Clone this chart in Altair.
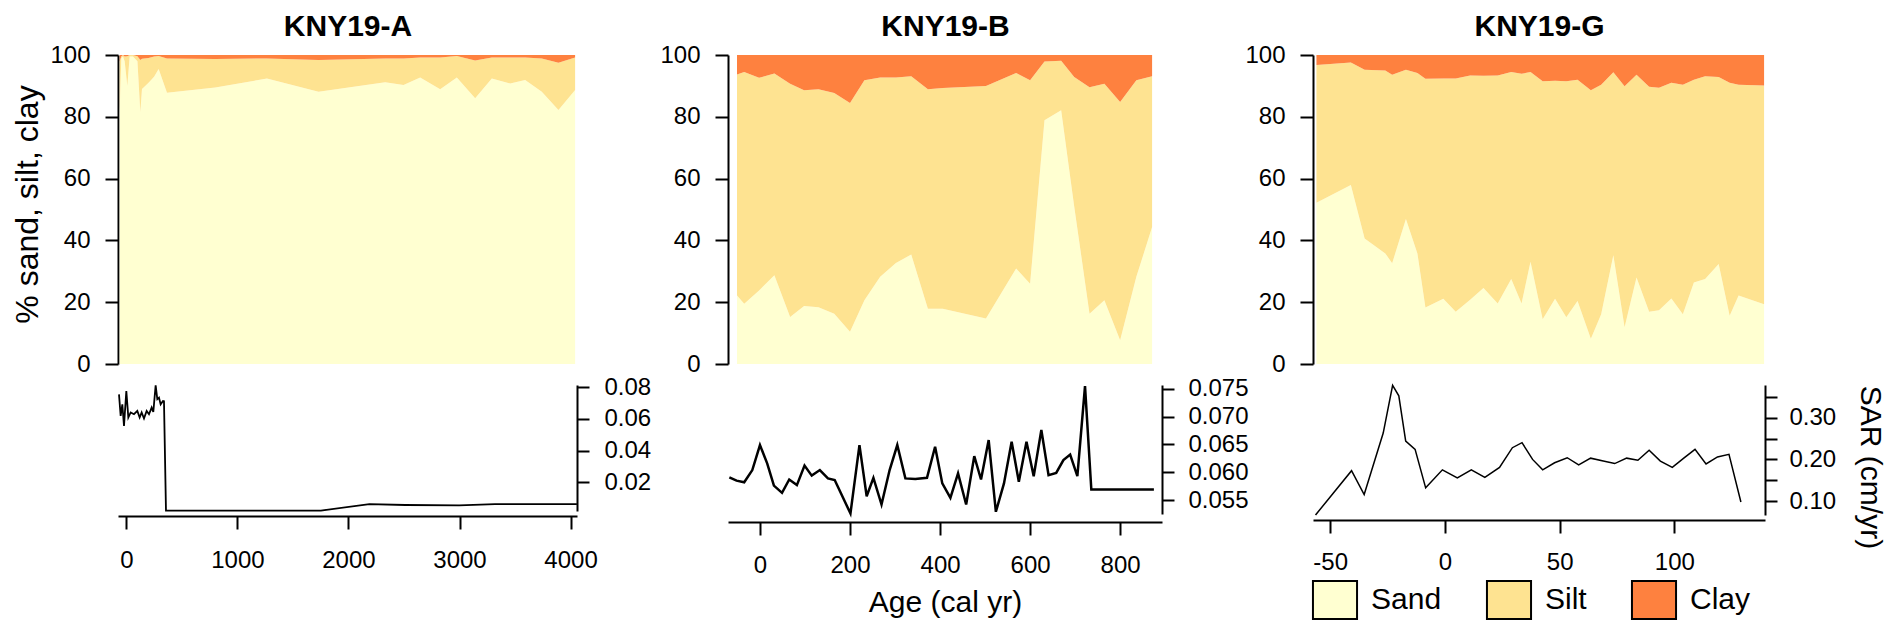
import altair as alt
import pandas as pd

FONT = "Liberation Sans"
COLORS = ["#FFFFD1", "#FEE391", "#FE813F"]
FRACTIONS = ["Sand", "Silt", "Clay"]

# ---------------- KNY19-A : grain size (%) ----------------
A_age = [-60, -45, -30, -15, 9, 30, 60, 100, 126, 141, 200, 250, 291, 366, 801, 1266, 1731,
         2331, 2496, 2646, 2826, 2976, 3141, 3291, 3456, 3591, 3741, 3891, 4041]
A_sand = [82, 99, 99.5, 98, 90, 99.5, 99.5, 98, 81.5, 89, 91, 93, 95.5, 87.8, 89.5, 92.4, 88.1,
          91.2, 90.3, 92.7, 88.9, 92.7, 86.0, 92.4, 90.8, 91.9, 88.1, 82.2, 88.7]
A_silt = [16, 0.6, 0.5, 1.5, 9.6, 0.5, 0.5, 1.6, 16.9, 9.8, 8, 6.5, 4.2, 11.1, 9.2, 6.5, 10.3,
          7.7, 8.6, 6.5, 10.3, 7.0, 12.2, 6.8, 8.4, 7.3, 10.8, 15.3, 10.5]
A_clay = [2, 0.4, 0, 0.5, 0.4, 0, 0, 0.4, 1.6, 1.2, 1, 0.5, 0.3, 1.1, 1.3, 1.1, 1.6,
          1.1, 1.1, 0.8, 0.8, 0.3, 1.8, 0.8, 0.8, 0.8, 1.1, 2.5, 0.8]

# ---------------- KNY19-B : grain size (%) ----------------
B_age = [-51, -35, -2, 32, 67, 98, 130, 165, 200, 232, 267, 302, 336, 373, 406, 502, 569,
         600, 632, 669, 698, 732, 765, 800, 836, 871]
B_sand = [22.2, 19.5, 23.8, 28.7, 15.2, 18.8, 18.4, 16.3, 10.4, 20.6, 28.2, 32.7, 35.4, 17.9,
          17.9, 14.7, 30.9, 26.0, 78.9, 82.1, 51.0, 16.3, 20.6, 7.7, 28.2, 44.3]
B_silt = [71.5, 75.0, 68.8, 65.3, 75.5, 69.8, 70.5, 71.4, 74.1, 71.2, 64.5, 60.0, 57.7, 71.0,
          71.4, 75.3, 63.3, 65.8, 19.0, 16.0, 41.9, 73.3, 70.1, 77.1, 63.6, 48.8]
B_clay = [6.3, 5.5, 7.4, 6.0, 9.3, 11.4, 11.1, 12.3, 15.5, 8.2, 7.3, 7.3, 6.9, 11.1, 10.7,
          10.0, 5.8, 8.2, 2.1, 1.9, 7.1, 10.4, 9.3, 15.2, 8.2, 6.9]

# ---------------- KNY19-G : grain size (%) ----------------
G_age = [-56, -41, -35, -26, -23, -17, -12, -8.5, -0.7, 4.7, 11, 16.8, 23, 28.9, 33.4, 37.3,
         42.6, 48, 52.9, 57.8, 63.6, 68.1, 73.4, 78.3, 83.5, 89, 93.3, 98.7, 103.7, 108.5,
         113.4, 119.3, 124.1, 128, 139.1]
G_sand = [52.2, 57.9, 40.6, 35.8, 32.6, 46.9, 35.8, 18.3, 21.1, 16.9, 20.8, 24.6, 19.6, 27.5,
          19.6, 33.1, 14.5, 21.1, 15.1, 20.4, 8.2, 16.1, 35.2, 11.9, 28.0, 16.9, 17.4, 21.2,
          16.1, 26.4, 27.5, 32.4, 15.6, 22.2, 19.3]
G_silt = [44.6, 39.7, 54.6, 59.2, 61.0, 48.3, 58.4, 74.0, 71.3, 75.5, 72.6, 68.7, 73.8, 67.0,
          74.3, 61.4, 77.0, 70.6, 76.4, 71.6, 80.4, 74.3, 59.2, 78.0, 65.6, 72.8, 72.0, 69.8,
          74.3, 65.6, 65.6, 60.5, 75.4, 68.2, 70.8]
G_clay = [3.2, 2.4, 4.8, 5.0, 6.4, 4.8, 5.8, 7.7, 7.6, 7.6, 6.6, 6.7, 6.6, 5.5, 6.1, 5.5, 8.5,
          8.3, 8.5, 8.0, 11.4, 9.6, 5.6, 10.1, 6.4, 10.3, 10.6, 9.0, 9.6, 8.0, 6.9, 7.1, 9.0,
          9.6, 9.9]

# ---------------- SAR (cm/yr) ----------------
A_sar_age = [-66, -51, -36, -21, 0, 18, 39, 69, 99, 120, 138, 159, 183, 204, 228, 243, 264,
             279, 294, 309, 330, 339, 357, 1752, 2189, 2511, 2997, 3320, 4057]
A_sar = [0.0756, 0.0619, 0.0693, 0.0556, 0.0777, 0.0609, 0.0641, 0.0630, 0.0651, 0.0609,
         0.0641, 0.0603, 0.0651, 0.0630, 0.0672, 0.0644, 0.0813, 0.0725, 0.0735, 0.0693,
         0.0714, 0.0712, 0.0020, 0.0020, 0.0061, 0.0055, 0.0053, 0.0060, 0.0060]

B_sar_age = [-68, -52, -35, -17, 0, 16, 31, 49, 65, 82, 99, 115, 133, 151, 166, 201, 221, 237,
             252, 270, 288, 305, 323, 345, 371, 389, 405, 423, 440, 458, 476, 491, 508, 524,
             542, 559, 575, 592, 608, 625, 641, 658, 674, 689, 705, 722, 736, 875]
B_sar = [0.0591, 0.0585, 0.0582, 0.0604, 0.0649, 0.0616, 0.0576, 0.0563, 0.0587, 0.0577,
         0.0612, 0.0594, 0.0604, 0.0589, 0.0586, 0.0526, 0.0649, 0.0557, 0.0590, 0.0542,
         0.0604, 0.0649, 0.0589, 0.0588, 0.0590, 0.0646, 0.0580, 0.0554, 0.0598, 0.0542,
         0.0629, 0.0587, 0.0658, 0.0529, 0.0580, 0.0655, 0.0583, 0.0655, 0.0593, 0.0676,
         0.0595, 0.0599, 0.0622, 0.0632, 0.0593, 0.0755, 0.0569, 0.0569]

G_sar_age = [-56.4, -40.7, -35.2, -26.9, -22.8, -20.1, -17.1, -13.0, -8.4, -1.1, 5.4, 11.5,
             17.4, 23.8, 29.4, 33.6, 38.2, 42.6, 47.8, 53.3, 58.3, 63.5, 69.0, 74.0, 79.2,
             84.1, 89.0, 93.9, 99.1, 104.1, 109.0, 113.8, 118.8, 123.8, 129.0]
G_sar = [0.067, 0.173, 0.116, 0.263, 0.377, 0.352, 0.244, 0.224, 0.132, 0.175, 0.156, 0.175,
         0.157, 0.181, 0.228, 0.240, 0.200, 0.175, 0.192, 0.204, 0.187, 0.203, 0.196, 0.190,
         0.203, 0.198, 0.222, 0.196, 0.181, 0.203, 0.224, 0.189, 0.206, 0.212, 0.098]

# ---------------- axis settings ----------------
A_xdom, B_xdom, G_xdom = [-75, 4058], [-71, 893], [-57.5, 139.5]
A_xticks = [0, 1000, 2000, 3000, 4000]
B_xticks = [0, 200, 400, 600, 800]
G_xticks = [-50, 0, 50, 100]
A_ydom, B_ydom, G_ydom = [0.0017, 0.0815], [0.0525, 0.0757], [0.067, 0.378]
A_yticks = [0.02, 0.04, 0.06, 0.08]
B_yticks = [0.055, 0.060, 0.065, 0.070, 0.075]
G_yticks = [0.10, 0.15, 0.20, 0.25, 0.30, 0.35]
PCT_TICKS = [0, 20, 40, 60, 80, 100]


def comp_df(age, sand, silt, clay):
    rows = []
    for a, s, si, c in zip(age, sand, silt, clay):
        for k, (name, v) in enumerate(zip(FRACTIONS, (s, si, c))):
            rows.append({"age": a, "frac": name, "ord": k, "pct": v})
    return pd.DataFrame(rows)


AX = dict(domainColor="black", tickColor="black", labelColor="black", domainWidth=2,
          tickWidth=2, labelFont=FONT, labelFontSize=24, titleFont=FONT,
          titleFontWeight="normal", titleColor="black", titleFontSize=30, grid=False,
          labelFlush=False, labelOverlap=False)

legend = alt.Legend(title=None, orient="none", legendX=1197, legendY=525,
                    direction="horizontal", columns=3,
                    symbolType="M-1.16,-1H1.16V1H-1.16Z", symbolSize=1444,
                    symbolStrokeColor="black", symbolStrokeWidth=2, symbolOpacity=1,
                    labelFont=FONT, labelFontSize=30, labelColor="black",
                    labelOffset=16, columnPadding=40, padding=0)


def top_chart(df, title, xdom, width, ytitle):
    yaxis_kw = dict(AX, values=PCT_TICKS, orient="left", tickSize=13, labelPadding=15)
    if ytitle:
        yaxis_kw.update(title=ytitle, titleFontSize=32, titleAngle=270, titleX=-91,
                        titleY=149, titleAlign="center", titleBaseline="middle")
    else:
        yaxis_kw.update(title=None)
    # panel heading drawn as the title of a bare top axis
    xaxis = alt.Axis(orient="top", domain=False, ticks=False, labels=False, grid=False,
                     title=title, titleFont=FONT, titleFontSize=30, titleFontWeight="bold",
                     titleColor="black", titleY=-20, titleBaseline="alphabetic",
                     titleAlign="center")
    return alt.Chart(df).mark_area(opacity=1, interpolate="linear").encode(
        x=alt.X("age:Q", scale=alt.Scale(domain=xdom, nice=False, zero=False), axis=xaxis),
        y=alt.Y("pct:Q", stack="zero", scale=alt.Scale(domain=[0, 100], nice=False),
                axis=alt.Axis(**yaxis_kw)),
        color=alt.Color("frac:N", scale=alt.Scale(domain=FRACTIONS, range=COLORS),
                        legend=legend),
        order=alt.Order("ord:Q", sort="ascending"),
    ).properties(width=width, height=309)


def bottom_chart(age, sar, xdom, xticks, ydom, yaxis_extra, width, height, sw,
                 xtitle=None, lpad=14, xoff=5):
    df = pd.DataFrame({"age": age, "sar": sar})
    xkw = dict(AX, values=xticks, orient="bottom", offset=xoff, tickSize=13,
               labelPadding=lpad, labelExpr="datum.value + ''")
    if xtitle:
        xkw.update(title=xtitle, titleY=80, titleBaseline="middle", titleAlign="center")
    else:
        xkw.update(title=None)
    ykw = dict(AX, orient="right", tickSize=12)
    ykw.update(yaxis_extra)
    return alt.Chart(df).mark_line(color="black", strokeWidth=sw).encode(
        x=alt.X("age:Q", scale=alt.Scale(domain=xdom, nice=False, zero=False),
                axis=alt.Axis(**xkw)),
        y=alt.Y("sar:Q", scale=alt.Scale(domain=ydom, nice=False, zero=False),
                axis=alt.Axis(**ykw)),
    ).properties(width=width, height=height)


WA, WB, WG = 459, 434, 452

a_top = top_chart(comp_df(A_age, A_sand, A_silt, A_clay), "KNY19-A", A_xdom, WA,
                  "% sand, silt, clay")
b_top = top_chart(comp_df(B_age, B_sand, B_silt, B_clay), "KNY19-B", B_xdom, WB, None)
g_top = top_chart(comp_df(G_age, G_sand, G_silt, G_clay), "KNY19-G", G_xdom, WG, None)

a_bot = bottom_chart(A_sar_age, A_sar, A_xdom, A_xticks, A_ydom,
                     dict(values=A_yticks, format=".2f", labelPadding=15, title=None),
                     WA, 126, 1.8, lpad=19)
b_bot = bottom_chart(B_sar_age, B_sar, B_xdom, B_xticks, B_ydom,
                     dict(values=B_yticks, format=".3f", labelPadding=14, title=None),
                     WB, 129, 2.5, xtitle="Age (cal yr)", lpad=18, xoff=8)
g_bot = bottom_chart(G_sar_age, G_sar, G_xdom, G_xticks, G_ydom,
                     dict(values=G_yticks, labelPadding=12,
                          labelExpr="(round(datum.value*100) % 10 == 0) ? format(datum.value, '.2f') : ''",
                          title="SAR (cm/yr)", titleAngle=90, titleX=104, titleY=82,
                          titleAlign="center", titleBaseline="middle"),
                     WG, 130, 1.5, lpad=17)

chart = alt.concat(
    a_top, b_top, g_top, a_bot, b_bot, g_bot, columns=3,
    spacing={"row": 21, "column": 151}, bounds="flush", align="each",
).resolve_scale(
    x="independent", y="independent", color="shared"
).configure_view(stroke=None).properties(
    padding={"left": 3, "top": 3, "right": 4, "bottom": 0}, background="white"
)

chart.save("out.html", embed_options={"renderer": "svg", "actions": False})
